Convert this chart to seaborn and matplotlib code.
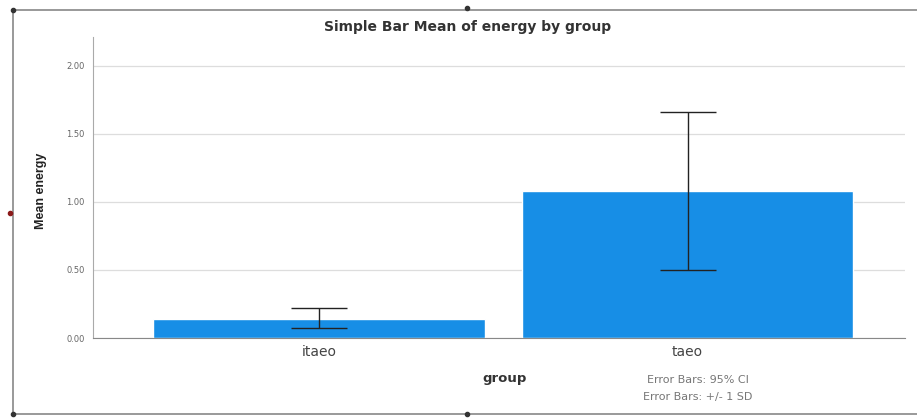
import pandas as pd
import seaborn as sns
import matplotlib.pyplot as plt
from matplotlib.lines import Line2D

# Chart data
groups = ["itaeo", "taeo"]
mean_energy = [0.14, 1.08]
err_low = [0.074, 0.50]
err_high = [0.22, 1.66]
y_ticks = [0.0, 0.5, 1.0, 1.5, 2.0]
notes = ["Error Bars: 95% CI", "Error Bars: +/- 1 SD"]

df = pd.DataFrame({"group": groups, "energy": mean_energy})

sns.set_style("white")
plt.rcParams["font.family"] = ["DejaVu Sans"]

fig = plt.figure(figsize=(9.17, 4.19), dpi=100)
ax = fig.add_axes([93 / 917, 1 - 338 / 419, (905 - 93) / 917, (338 - 37) / 419])

# Bars
sns.barplot(x="group", y="energy", data=df, color="#178ee6", width=0.9,
            errorbar=None, saturation=1, ax=ax, zorder=2)

# Error bars
pos = list(range(len(groups)))
lower = [m - lo for m, lo in zip(mean_energy, err_low)]
upper = [hi - m for m, hi in zip(mean_energy, err_high)]
ax.errorbar(pos, mean_energy, yerr=[lower, upper], fmt="none", ecolor="#222222",
            elinewidth=1, capsize=20, capthick=1, zorder=3)

# Axes styling
ax.set_ylim(0, 2.21)
ax.set_xlim(-0.613, 1.59)
ax.set_yticks(y_ticks)
ax.set_yticklabels([f"{t:.2f}" for t in y_ticks], fontsize=6, color="#666666")
ax.tick_params(axis="y", length=3, width=0.6, color="#bbbbbb", pad=3)
ax.tick_params(axis="x", length=0, labelsize=10, colors="#444444", pad=5)
ax.yaxis.grid(True, color="#dddddd", linewidth=0.9, zorder=0)
ax.set_axisbelow(True)
for side in ["top", "right"]:
    ax.spines[side].set_visible(False)
ax.spines["left"].set_color("#aaaaaa")
ax.spines["bottom"].set_color("#888888")
ax.spines["left"].set_linewidth(0.8)
ax.spines["bottom"].set_linewidth(0.8)

ax.set_xlabel("group", fontsize=9.5, fontweight="bold", color="#333333")
ax.xaxis.set_label_coords((505 - 93) / 812, -34 / 301)
ax.set_ylabel("Mean energy", fontsize=9, fontweight="bold", color="#222222",
              family="Liberation Sans")
ax.yaxis.set_label_coords(-46 / 812, 0.49)

# Title
fig.text(468 / 917, 1 - 27 / 419, "Simple Bar Mean of energy by group",
         ha="center", va="center", fontsize=10, fontweight="bold", color="#333333")

# Error bar notes
for i, note in enumerate(notes):
    fig.text(698 / 917, 1 - (380 + 17 * i) / 419, note, ha="center", va="center",
             fontsize=8, color="#777777")

# Outer chart frame (editor selection box)
frame_kw = dict(color="#888888", linewidth=1.2, transform=fig.transFigure)
fig.add_artist(Line2D([13 / 917, 1], [1 - 10 / 419] * 2, **frame_kw))
fig.add_artist(Line2D([13 / 917, 1], [1 - 414 / 419] * 2, **frame_kw))
fig.add_artist(Line2D([13 / 917] * 2, [1 - 10 / 419, 1 - 414 / 419], **frame_kw))
for hx, hy, hc in [(13, 10, "#333333"), (467, 8, "#333333"), (13, 414, "#333333"),
                   (467, 414, "#333333"), (10, 213, "#8b1a1a")]:
    fig.add_artist(Line2D([hx / 917], [1 - hy / 419], marker="o", markersize=3,
                          color=hc, transform=fig.transFigure))

fig.savefig("out.png", dpi=100)
